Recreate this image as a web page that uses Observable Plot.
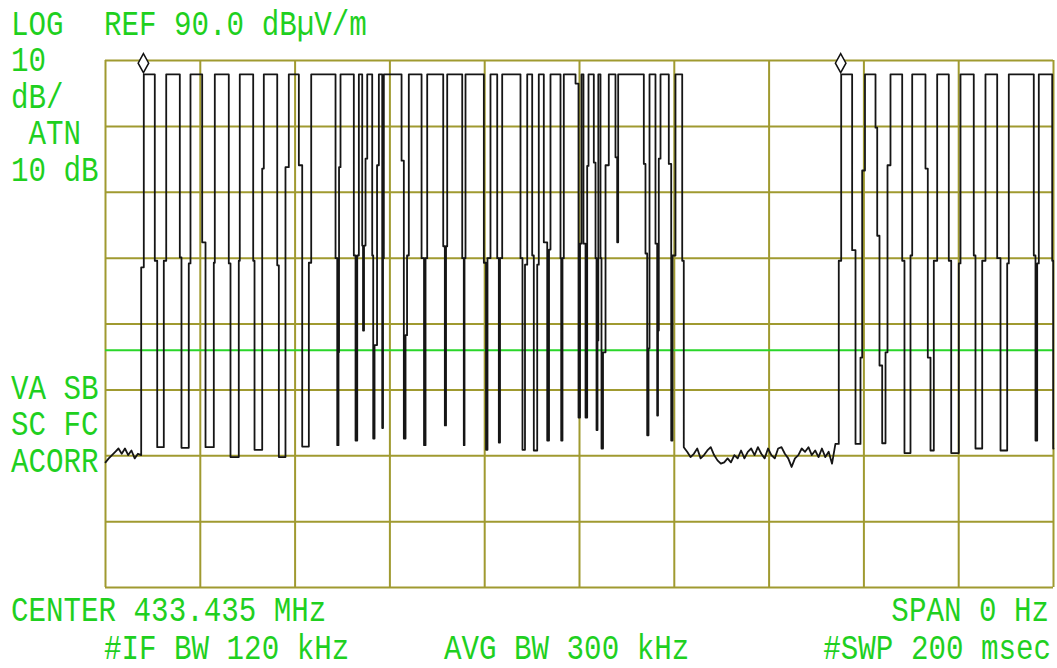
<!DOCTYPE html>
<html><head><meta charset="utf-8">
<script src="https://cdn.jsdelivr.net/npm/d3@7"></script>
<script src="https://cdn.jsdelivr.net/npm/@observablehq/plot@0.6"></script>
<style>
html,body{margin:0;padding:0;background:#fff;}
#chart{width:1057px;height:668px;}
</style></head><body><div id="chart"></div>
<script>
// ---- data (time in ms, level in dBuV/m) ----
const H = 87.9; // carrier-on level
const timeGrid = [0, 20, 40, 60, 80, 100, 120, 140, 160, 180, 200];
const levelGrid = [10, 20, 30, 40, 50, 60, 70, 80, 90];
const displayLine = 46;
const markerTimes = [8.0, 155.1];
const markerLevel = 89.6;

const leadNoiseSpan = [0, 7.53];
const leadNoise = [29.0, 29.6, 30.1, 30.6, 31.1, 30.3, 31.1, 30.1, 30.8, 29.6, 30.3, 30.1];

// burst 1: each run is flat at burst1Level[i] and ends at burst1End[i]
const burst1End = [8.08, 10.40, 10.91, 12.30, 12.81, 15.68, 16.03, 17.57, 17.93, 20.40,
  21.10, 22.85, 23.06, 26.01, 26.37, 28.12, 28.33, 31.16, 31.44, 33.06,
  33.40, 36.23, 36.57, 37.97, 38.67, 40.79, 41.50, 42.90, 43.40, 48.53,
  48.89, 49.16, 49.27, 49.58, 52.39, 52.75, 53.11, 53.45, 54.16, 54.33,
  54.54, 54.86, 55.22, 56.27, 56.48, 56.76, 57.29, 57.67, 58.38, 58.55,
  58.72, 62.46, 62.94, 63.30, 63.62, 63.99, 66.68, 67.20, 67.52, 67.87,
  71.25, 71.59, 71.84, 72.09, 75.26, 75.59, 75.74, 75.95, 79.82, 80.28,
  80.59, 81.22, 82.64, 82.98, 83.23, 83.69, 87.55, 87.97, 88.50, 88.97,
  90.02, 90.36, 91.08, 91.41, 92.47, 93.19, 93.57, 93.88, 95.99, 96.14,
  96.41, 96.69, 99.16, 99.79, 100.11, 100.42, 100.84, 101.27, 101.62, 101.90,
  103.02, 103.38, 103.59, 103.80, 103.97, 104.43, 104.64, 104.96, 105.49, 106.18,
  107.59, 107.95, 108.16, 113.57, 113.92, 114.28, 114.56, 114.77, 116.03, 116.39,
  116.56, 116.73, 117.09, 118.84, 119.35, 119.62, 120.25, 121.67, 122.00];
const burst1Level = [58.6, H, 59.6, 31.3, 59.6, H, 60.1, 31.2, 59.2, H,
  62.4, 31.3, 59.3, H, 59.2, 29.8, 59.6, H, 59.6, 30.9,
  73.6, H, 58.9, 29.8, 73.8, H, 74.1, 31.4, 59.3, H,
  60.0, 31.6, 45.7, 73.8, H, 60.4, 32.3, 60.4, H, 61.9,
  49.0, 61.9, 75.1, H, 60.4, 32.6, 46.8, 74.1, H, 34.2,
  60.0, H, 74.8, 32.6, 48.3, 60.4, H, 60.0, 31.6, 60.0,
  H, 61.8, 34.6, 61.8, H, 60.0, 31.6, 60.0, H, 59.3,
  30.9, 60.0, H, 60.0, 32.0, 60.0, H, 60.0, 30.9, 59.0,
  H, 60.4, 30.8, 59.0, H, 62.4, 32.3, 61.3, H, 60.0,
  32.3, 60.0, H, 86.5, 35.8, 62.2, H, 62.2, 35.8, 74.0,
  H, 74.5, 60.0, 33.9, 47.5, H, 60.0, 31.1, 45.7, 74.1,
  H, 75.3, 62.4, H, 74.3, 60.7, 33.1, 46.3, H, 62.2,
  36.1, 49.0, 75.1, H, 74.3, 32.3, 60.4, H, 59.6];

const gapNoiseSpan = [122.0, 154.7];
const gapNoise = [31.3, 30.6, 29.8, 30.3, 31.1, 29.6, 30.1, 30.8, 31.3, 30.1,
  29.3, 28.8, 29.0, 29.6, 29.0, 30.1, 29.6, 30.8, 29.6, 30.6,
  31.1, 30.1, 31.3, 30.3, 29.6, 31.1, 30.1, 29.6, 31.1, 31.3,
  30.3, 29.6, 28.3, 29.6, 30.1, 31.1, 30.6, 31.3, 30.1, 30.8,
  29.8, 31.1, 29.8, 30.6, 28.8, 31.8, 31.8];

const burst2End = [155.21, 157.52, 158.23, 159.28, 159.64, 160.23, 162.45, 162.81, 163.29, 163.86,
  164.56, 164.98, 165.61, 168.08, 168.56, 169.83, 170.19, 172.99, 173.48, 174.05,
  174.75, 175.46, 177.91, 178.42, 180.02, 180.38, 183.18, 183.54, 184.96, 185.65,
  188.12, 188.82, 190.23, 190.57, 195.84, 196.20, 196.56, 196.90, 199.73, 199.94, 200];
const burst2Level = [59.6, H, 61.2, 31.8, 44.9, 73.3, H, 79.8, 63.4, 43.7,
  31.9, 45.7, 74.1, H, 59.6, 30.4, 60.4, H, 73.6, 44.9,
  30.8, 59.6, H, 59.6, 30.4, 59.2, H, 60.4, 31.1, 59.6,
  H, 60.0, 30.8, 59.2, H, 60.4, 32.3, 59.2, H, 59.6, 31.1];

const headerLines = [
  {text: "LOG", col: 0, row: 0}, {text: "REF 90.0 dBµV/m", col: 1, row: 0},
  {text: "10", col: 0, row: 1}, {text: "dB/", col: 0, row: 2}, {text: " ATN", col: 0, row: 3},
  {text: "10 dB", col: 0, row: 4},
  {text: "VA SB", col: 0, row: 10}, {text: "SC FC", col: 0, row: 11}, {text: "ACORR", col: 0, row: 12}
];
const footerLeft = ["CENTER 433.435 MHz", "#IF BW 120 kHz"];
const footerMid = "AVG BW 300 kHz";
const footerRight = ["SPAN 0 Hz", "#SWP 200 msec"];

// ---- build trace ----
function noisePts(vals, span) {
  return vals.map((v, i) => ({t: span[0] + (span[1] - span[0]) * i / (vals.length - 1), v}));
}
function runPts(start, ends, levels) {
  const pts = []; let t = start;
  ends.forEach((e, i) => { pts.push({t, v: levels[i]}); pts.push({t: e, v: levels[i]}); t = e; });
  return pts;
}
const trace = [
  ...noisePts(leadNoise, leadNoiseSpan),
  ...runPts(leadNoiseSpan[1], burst1End, burst1Level),
  ...noisePts(gapNoise, gapNoiseSpan),
  ...runPts(gapNoiseSpan[1], burst2End, burst2Level)
];

const tallDiamond = {
  draw(ctx, size) {
    const r = Math.sqrt(size / Math.PI) * 1.6;
    ctx.moveTo(0, -r); ctx.lineTo(r * 0.55, 0); ctx.lineTo(0, r); ctx.lineTo(-r * 0.55, 0); ctx.closePath();
  }
};

const OLIVE = "#a09a30";
const GREEN = "#1fd01f";

const chart = Plot.plot({
  width: 1057, height: 668,
  marginLeft: 105, marginRight: 4, marginTop: 60, marginBottom: 81,
  x: {domain: [0, 200], axis: null},
  y: {domain: [10, 90], axis: null},
  style: {background: "white", overflow: "visible"},
  marks: [
    Plot.ruleX(timeGrid, {stroke: OLIVE, strokeWidth: 2, strokeOpacity: 1}),
    Plot.ruleY(levelGrid, {stroke: OLIVE, strokeWidth: 2, strokeOpacity: 1}),
    Plot.ruleY([displayLine], {stroke: "#2ad62a", strokeWidth: 2}),
    Plot.line(trace, {x: "t", y: "v", stroke: "#151515", strokeWidth: 1.8, curve: "linear", clip: false}),
    Plot.dot(markerTimes, {x: d => d, y: markerLevel, symbol: tallDiamond, r: 6, stroke: "#111", fill: "white", strokeWidth: 1.5})
  ]
});
document.getElementById("chart").appendChild(chart);

// ---- screen annotations ----
const svg = d3.select(chart);
const FS = 29.2;
const tg = svg.append("g").attr("fill", GREEN).attr("font-family", "'Liberation Mono', 'DejaVu Sans Mono', monospace")
  .attr("font-size", FS).attr("xml:space", "preserve").style("white-space", "pre");
function put(text, x, y, anchor) {
  tg.append("text").attr("transform", `translate(${x},${y}) scale(1,1.17)`)
    .attr("text-anchor", anchor || "start").text(text);
}
headerLines.forEach(d => {
  const x = d.col === 0 ? 11 : 104;
  const y = 35 + d.row * 36.4;
  put(d.text, x, y);
});
put(footerLeft[0], 11, 621);
put(footerLeft[1], 104, 659);
put(footerMid, 444, 659);
put(footerRight[0], 1049, 621, "end");
put(footerRight[1], 1051, 659, "end");
</script>
</body></html>
